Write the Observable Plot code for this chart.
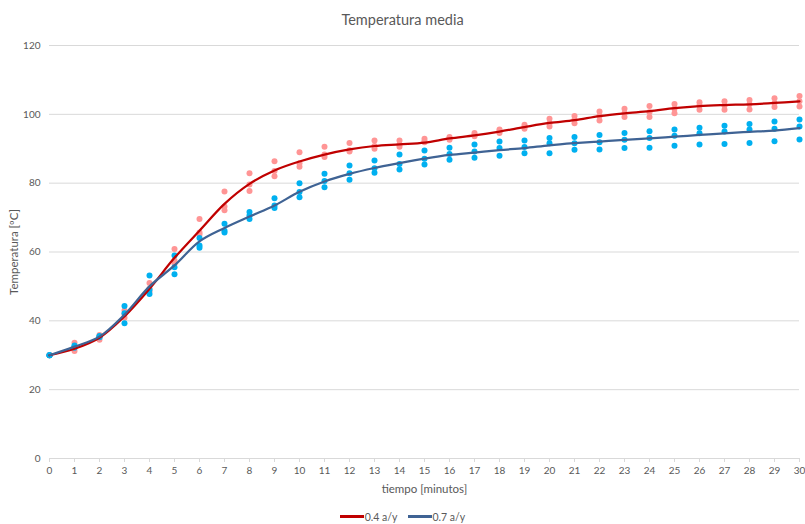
<!DOCTYPE html>
<html>
<head>
<meta charset="utf-8">
<script src="https://cdn.jsdelivr.net/npm/d3@7"></script>
<script src="https://cdn.jsdelivr.net/npm/@observablehq/plot@0.6"></script>
<style>
  html, body { margin: 0; padding: 0; background: #fff; }
  body { width: 805px; height: 524px; overflow: hidden; font-family: Lato, "Open Sans", sans-serif; }
  #title { height: 34px; line-height: 40px; text-align: center; font-size: 14.5px; color: #595959; }
  #legend { box-sizing: border-box; display: flex; justify-content: center; align-items: center; gap: 10px; font-size: 10.5px; line-height: 12px; color: #595959; height: 24px; padding-top: 9px; }
  .item { display: flex; align-items: center; }
  .sw { width: 24px; height: 3px; margin-right: 1px; }
</style>
</head>
<body>
<div id="title">Temperatura media</div>
<div id="chart"></div>
<div id="legend"></div>
<script>
const minutes = d3.range(0, 31);
const seriesNames = ["0.4 a/y", "0.7 a/y"];
const xTicks = d3.range(0, 31);
const yTicks = [0, 20, 40, 60, 80, 100, 120];

// mean curves
const mean04 = [30, 31.9, 35.1, 41.3, 49.3, 58.3, 66.2, 74.0, 79.8, 83.7, 86.3, 88.3, 89.8, 90.8, 91.3, 91.8, 93.0, 93.9, 95.0, 96.3, 97.5, 98.3, 99.5, 100.3, 100.9, 101.8, 102.4, 102.7, 102.9, 103.3, 103.8];
const mean07 = [30, 32.5, 35.4, 41.8, 50.0, 56.1, 63.1, 67.0, 70.3, 73.5, 77.5, 80.5, 82.7, 84.4, 85.8, 87.1, 88.2, 88.9, 89.6, 90.2, 91.0, 91.6, 92.1, 92.6, 93.0, 93.5, 94.0, 94.5, 94.9, 95.3, 96.0];

// individual measurements, 0.4 a/y
const r1 = [30, 33.6, 35.9, 43.0, 51.0, 60.9, 69.6, 77.6, 82.9, 86.4, 89.0, 90.6, 91.7, 92.4, 92.4, 92.9, 93.4, 94.6, 95.6, 97.0, 98.7, 99.5, 100.8, 101.6, 102.4, 103.0, 103.5, 103.8, 104.2, 104.7, 105.3];
const r2 = [30, 32.2, 35.3, 42.0, 49.3, 57.5, 65.7, 73.2, 79.6, 83.5, 85.8, 88.3, 89.6, 90.8, 91.2, 92.2, 93.0, 94.0, 95.1, 96.3, 97.4, 98.4, 99.5, 100.3, 100.6, 101.6, 102.6, 102.6, 102.9, 103.3, 103.8];
const r3 = [30, 31.2, 34.5, 40.9, 48.5, 56.6, 65.1, 72.1, 77.7, 82.0, 84.8, 87.6, 89.2, 90.0, 90.6, 91.9, 92.6, 93.6, 94.6, 95.8, 96.5, 97.4, 98.2, 99.2, 99.2, 100.3, 101.3, 101.3, 101.4, 102.1, 102.3];
// individual measurements, 0.7 a/y
const b1 = [30, 32.8, 35.6, 44.3, 53.2, 59.0, 64.1, 68.2, 71.6, 75.6, 80.0, 82.7, 85.1, 86.6, 88.3, 89.5, 90.3, 91.2, 92.1, 92.4, 93.1, 93.4, 94.0, 94.6, 95.1, 95.6, 96.1, 96.7, 97.2, 97.9, 98.5];
const b2 = [30, 32.5, 35.4, 42.2, 49.0, 55.6, 61.9, 66.2, 70.6, 73.5, 77.4, 80.6, 82.9, 84.3, 85.6, 87.1, 88.5, 89.2, 90.2, 90.5, 91.6, 91.6, 91.9, 92.6, 93.1, 93.8, 94.5, 95.0, 95.6, 95.8, 96.5];
const b3 = [30, 32.2, 35.2, 39.3, 47.8, 53.5, 61.2, 65.7, 69.6, 72.8, 75.9, 78.8, 81.0, 83.0, 84.0, 85.4, 86.8, 87.4, 88.0, 88.7, 88.7, 89.7, 89.8, 90.2, 90.3, 90.9, 91.2, 91.4, 91.7, 92.2, 92.7];

const lineColors = ["#C00000", "#3F6394"];
const dotColors = ["#FF9595", "#00B0F0"];

const lines = minutes.map((t, i) => ({t, v: mean04[i], s: seriesNames[0]}));
const lines2 = minutes.map((t, i) => ({t, v: mean07[i], s: seriesNames[1]}));
const dots04 = [];
const dots07 = [];
minutes.forEach((t, i) => {
  [r1, r2, r3].forEach(a => dots04.push({t, v: a[i]}));
  [b1, b2, b3].forEach(a => dots07.push({t, v: a[i]}));
});

const chart = Plot.plot({
  width: 805,
  height: 466,
  marginLeft: 49,
  marginRight: 6,
  marginTop: 11,
  marginBottom: 42,
  style: {fontFamily: "Lato, 'Open Sans', sans-serif", fontSize: "10px", color: "#595959", background: "#fff"},
  x: {domain: [0, 30]},
  y: {domain: [0, 120]},
  marks: [
    Plot.gridY(yTicks, {stroke: "#D9D9D9", strokeOpacity: 1, strokeWidth: 1}),
    Plot.axisY(yTicks, {tickSize: 0, tickPadding: 9, label: "Temperatura [ºC]", labelAnchor: "center", labelOffset: 40, labelArrow: "none", fontSize: 10, color: "#595959"}),
    Plot.axisX(xTicks, {tickSize: 4, stroke: "#D9D9D9", tickPadding: 4, label: "tiempo [minutos]", labelAnchor: "center", labelOffset: 34, labelArrow: "none", fontSize: 10, color: "#595959"}),
    Plot.dot(dots04, {x: "t", y: "v", r: 3, fill: dotColors[0], stroke: "none"}),
    Plot.dot(dots07, {x: "t", y: "v", r: 3, fill: dotColors[1], stroke: "none"}),
    Plot.line(lines, {x: "t", y: "v", stroke: lineColors[0], strokeWidth: 2.25, curve: "catmull-rom"}),
    Plot.line(lines2, {x: "t", y: "v", stroke: lineColors[1], strokeWidth: 2.25, curve: "catmull-rom"})
  ]
});
document.getElementById("chart").appendChild(chart);
const svg = d3.select(chart).style("display", "block");
svg.selectAll("[aria-label='y-axis label'], [aria-label='x-axis label']").attr("font-size", "11.5px").selectAll("text").attr("font-size", "11.5px");

const legend = document.getElementById("legend");
seriesNames.forEach((name, i) => {
  const item = document.createElement("div");
  item.className = "item";
  item.innerHTML = `<span class="sw" style="background:${lineColors[i]}"></span><span>${name}</span>`;
  legend.appendChild(item);
});
</script>
</body>
</html>
